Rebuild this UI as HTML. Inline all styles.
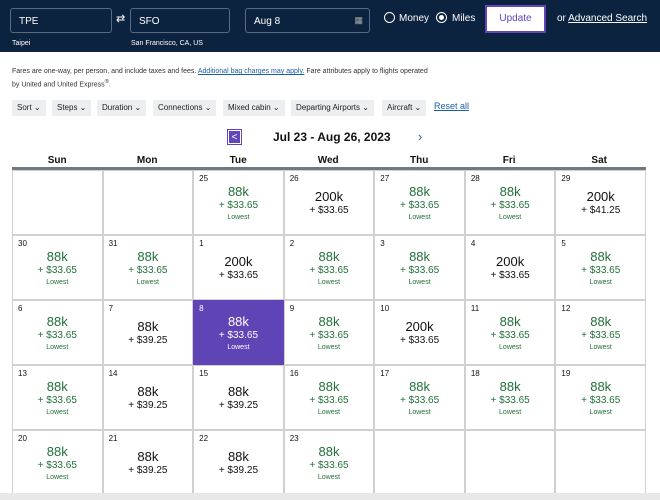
<!DOCTYPE html>
<html><head><meta charset="utf-8"><style>
*{box-sizing:border-box;margin:0;padding:0}
body{width:660px;height:500px;overflow:hidden;background:#fff;font-family:"Liberation Sans",sans-serif;position:relative;color:#111}
.hdr{position:absolute;left:0;top:0;width:660px;height:52px;background:#0c2340}
.inp{position:absolute;top:8px;height:25px;border:1px solid #5a6a85;border-radius:3px;color:#fff;font-size:10px;padding:7px 0 0 8px}
.sub{position:absolute;top:40px;color:#fff;font-size:7px}
.rad{position:absolute;top:12px;width:11px;height:11px;border:1.5px solid #fff;border-radius:50%}
.lbl{position:absolute;top:13px;color:#fff;font-size:10px}
.upd{position:absolute;left:485px;top:5px;width:61px;height:28px;background:#fff;border:2px solid #6244bb;color:#6244bb;font-size:10px;text-align:center;line-height:24px}
.note{position:absolute;left:12px;font-size:7px;color:#333}
.f{position:absolute;top:100px;height:16px;background:#eceeef;font-size:8px;line-height:16px;padding:0 5px;color:#222}
.dow{position:absolute;top:155px;width:90.4px;text-align:center;font-size:10px;font-weight:bold}
.grid{position:absolute;left:12px;top:167px;width:634px;border-top:3px solid #6f7a82;display:grid;grid-template-columns:repeat(7,1fr);grid-auto-rows:65px}
.c{border:1px solid #d0d0d0;position:relative;text-align:center}
.d{position:absolute;left:5px;top:3px;font-size:8px}
.p{font-size:13px;margin-top:13px;line-height:15px}
.fee{font-size:10px;line-height:14px}
.lo{font-size:7px;line-height:9px}
.g{color:#22703a}
.b .p{margin-top:18px}
.sel{background:#5e44b5;color:#fff;border-color:#5e44b5}
</style></head><body>
<div class="hdr">
<div class="inp" style="left:10px;width:102px">TPE</div>
<div style="position:absolute;left:116px;top:12px;color:#fff;font-size:11px">⇄</div>
<div class="inp" style="left:130px;width:100px">SFO</div>
<div class="inp" style="left:245px;width:125px">Aug 8<span style="position:absolute;right:6px;top:6px;font-size:9px;color:#aaa">▦</span></div>
<div class="sub" style="left:12px">Taipei</div>
<div class="sub" style="left:131px">San Francisco, CA, US</div>
<div class="rad" style="left:384px"></div><div class="lbl" style="left:399px">Money</div>
<div class="rad" style="left:436px"><div style="width:5px;height:5px;background:#fff;border-radius:50%;margin:1.5px"></div></div><div class="lbl" style="left:452px">Miles</div>
<div class="upd">Update</div>
<div class="lbl" style="left:557px">or <u>Advanced Search</u></div>
</div>
<div class="note" style="top:68px">Fares are one-way, per person, and include taxes and fees. <u style="color:#1a5fa8">Additional bag charges may apply.</u> Fare attributes apply to flights operated</div>
<div class="note" style="top:79px">by United and United Express<sup>®</sup>.</div>
<div class="f" style="left:12px">Sort ⌄</div>
<div class="f" style="left:52px">Steps ⌄</div>
<div class="f" style="left:97px">Duration ⌄</div>
<div class="f" style="left:153px">Connections ⌄</div>
<div class="f" style="left:223px">Mixed cabin ⌄</div>
<div class="f" style="left:291px">Departing Airports ⌄</div>
<div class="f" style="left:382px">Aircraft ⌄</div>
<div style="position:absolute;left:434px;top:101px;font-size:9px;color:#1a5fa8;text-decoration:underline">Reset all</div>
<div style="position:absolute;left:228px;top:130px;width:13px;height:14px;background:#6244bb;color:#fff;font-size:10px;line-height:14px;text-align:center;border:1px solid #fff;outline:1px solid #6244bb">&lt;</div>
<div style="position:absolute;left:273px;top:130px;font-size:12px;font-weight:bold">Jul 23 - Aug 26, 2023</div>
<div style="position:absolute;left:418px;top:129px;font-size:13px;color:#1a5fa8">›</div>
<div class="dow" style="left:12px">Sun</div><div class="dow" style="left:102px">Mon</div><div class="dow" style="left:193px">Tue</div><div class="dow" style="left:283px">Wed</div><div class="dow" style="left:374px">Thu</div><div class="dow" style="left:464px">Fri</div><div class="dow" style="left:554px">Sat</div>
<div class="grid">
<div class="c"></div><div class="c"></div>
<div class="c g"><span class="d" style="color:#111">25</span><div class="p">88k</div><div class="fee">+ $33.65</div><div class="lo">Lowest</div></div>
<div class="c b"><span class="d">26</span><div class="p">200k</div><div class="fee">+ $33.65</div></div>
<div class="c g"><span class="d" style="color:#111">27</span><div class="p">88k</div><div class="fee">+ $33.65</div><div class="lo">Lowest</div></div>
<div class="c g"><span class="d" style="color:#111">28</span><div class="p">88k</div><div class="fee">+ $33.65</div><div class="lo">Lowest</div></div>
<div class="c b"><span class="d">29</span><div class="p">200k</div><div class="fee">+ $41.25</div></div>

<div class="c g"><span class="d" style="color:#111">30</span><div class="p">88k</div><div class="fee">+ $33.65</div><div class="lo">Lowest</div></div>
<div class="c g"><span class="d" style="color:#111">31</span><div class="p">88k</div><div class="fee">+ $33.65</div><div class="lo">Lowest</div></div>
<div class="c b"><span class="d">1</span><div class="p">200k</div><div class="fee">+ $33.65</div></div>
<div class="c g"><span class="d" style="color:#111">2</span><div class="p">88k</div><div class="fee">+ $33.65</div><div class="lo">Lowest</div></div>
<div class="c g"><span class="d" style="color:#111">3</span><div class="p">88k</div><div class="fee">+ $33.65</div><div class="lo">Lowest</div></div>
<div class="c b"><span class="d">4</span><div class="p">200k</div><div class="fee">+ $33.65</div></div>
<div class="c g"><span class="d" style="color:#111">5</span><div class="p">88k</div><div class="fee">+ $33.65</div><div class="lo">Lowest</div></div>

<div class="c g"><span class="d" style="color:#111">6</span><div class="p">88k</div><div class="fee">+ $33.65</div><div class="lo">Lowest</div></div>
<div class="c b"><span class="d">7</span><div class="p">88k</div><div class="fee">+ $39.25</div></div>
<div class="c sel"><span class="d">8</span><div class="p">88k</div><div class="fee">+ $33.65</div><div class="lo">Lowest</div></div>
<div class="c g"><span class="d" style="color:#111">9</span><div class="p">88k</div><div class="fee">+ $33.65</div><div class="lo">Lowest</div></div>
<div class="c b"><span class="d">10</span><div class="p">200k</div><div class="fee">+ $33.65</div></div>
<div class="c g"><span class="d" style="color:#111">11</span><div class="p">88k</div><div class="fee">+ $33.65</div><div class="lo">Lowest</div></div>
<div class="c g"><span class="d" style="color:#111">12</span><div class="p">88k</div><div class="fee">+ $33.65</div><div class="lo">Lowest</div></div>

<div class="c g"><span class="d" style="color:#111">13</span><div class="p">88k</div><div class="fee">+ $33.65</div><div class="lo">Lowest</div></div>
<div class="c b"><span class="d">14</span><div class="p">88k</div><div class="fee">+ $39.25</div></div>
<div class="c b"><span class="d">15</span><div class="p">88k</div><div class="fee">+ $39.25</div></div>
<div class="c g"><span class="d" style="color:#111">16</span><div class="p">88k</div><div class="fee">+ $33.65</div><div class="lo">Lowest</div></div>
<div class="c g"><span class="d" style="color:#111">17</span><div class="p">88k</div><div class="fee">+ $33.65</div><div class="lo">Lowest</div></div>
<div class="c g"><span class="d" style="color:#111">18</span><div class="p">88k</div><div class="fee">+ $33.65</div><div class="lo">Lowest</div></div>
<div class="c g"><span class="d" style="color:#111">19</span><div class="p">88k</div><div class="fee">+ $33.65</div><div class="lo">Lowest</div></div>

<div class="c g"><span class="d" style="color:#111">20</span><div class="p">88k</div><div class="fee">+ $33.65</div><div class="lo">Lowest</div></div>
<div class="c b"><span class="d">21</span><div class="p">88k</div><div class="fee">+ $39.25</div></div>
<div class="c b"><span class="d">22</span><div class="p">88k</div><div class="fee">+ $39.25</div></div>
<div class="c g"><span class="d" style="color:#111">23</span><div class="p">88k</div><div class="fee">+ $33.65</div><div class="lo">Lowest</div></div>
<div class="c"></div><div class="c"></div><div class="c"></div>
</div>
<div style="position:absolute;left:0;top:493px;width:660px;height:7px;background:#e8e8e8"></div>
</body></html>
